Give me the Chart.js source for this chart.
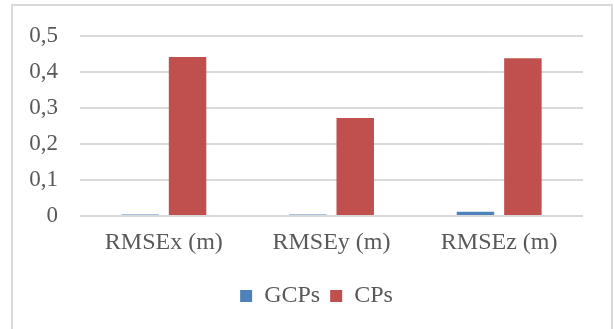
<!DOCTYPE html>
<html>
<head>
<meta charset="utf-8">
<script src="https://cdn.jsdelivr.net/npm/chart.js@4.4.1/dist/chart.umd.min.js"></script>
<style>
  html, body { margin: 0; padding: 0; background: #ffffff; }
  #wrap { position: relative; width: 614px; height: 329px; }
</style>
</head>
<body>
<div id="wrap"><canvas id="chart" width="614" height="329"></canvas></div>
<script>
// RMSE per axis, in metres
const categories = ['RMSEx (m)', 'RMSEy (m)', 'RMSEz (m)'];
const gcpsValues = [0.004, 0.004, 0.012];
const cpsValues = [0.441, 0.272, 0.438];
const seriesNames = ['GCPs', 'CPs'];

const textColor = '#595959';
const gridColor = '#d9d9d9';
const fontFamily = '"Liberation Serif", "Times New Roman", serif';

// light grey frame around the whole chart
const framePlugin = {
  id: 'frame',
  beforeDraw(chart) {
    const ctx = chart.ctx;
    ctx.save();
    ctx.strokeStyle = gridColor;
    ctx.lineWidth = 2;
    ctx.strokeRect(12, 5, 600, 340);
    ctx.restore();
  }
};

// centre the legend a little further right, under the plot
const legendShift = {
  id: 'legendShift',
  afterLayout(chart) {
    if (chart.legend) chart.legend.left = 50;
  }
};

new Chart(document.getElementById('chart'), {
  type: 'bar',
  data: {
    labels: categories,
    datasets: [
      {
        label: seriesNames[0],
        data: gcpsValues,
        backgroundColor: '#4f81bd',
        categoryPercentage: 0.566,
        barPercentage: 0.79
      },
      {
        label: seriesNames[1],
        data: cpsValues,
        backgroundColor: '#c0504d',
        categoryPercentage: 0.566,
        barPercentage: 0.79
      }
    ]
  },
  options: {
    responsive: false,
    animation: false,
    devicePixelRatio: 1,
    layout: { padding: { left: 0, right: 31, top: 33, bottom: 11 } },
    plugins: {
      tooltip: { enabled: false },
      legend: {
        position: 'bottom',
        labels: {
          color: textColor,
          font: { family: fontFamily, size: 24 },
          boxWidth: 12,
          boxHeight: 12,
          padding: 10
        }
      }
    },
    scales: {
      x: {
        afterFit(scale) { scale.height = 58; },
        grid: { display: false, drawTicks: false },
        border: { display: false },
        ticks: {
          color: textColor,
          font: { family: fontFamily, size: 24 },
          padding: 12,
          maxRotation: 0
        }
      },
      y: {
        min: 0,
        max: 0.5,
        afterFit(scale) { scale.width = 80; },
        grid: { color: gridColor, lineWidth: 2, drawTicks: false },
        border: { display: false },
        ticks: {
          stepSize: 0.1,
          color: textColor,
          font: { family: fontFamily, size: 23 },
          padding: 22,
          callback(v) {
            return v === 0 ? '0' : v.toFixed(1).replace('.', ',');
          }
        }
      }
    }
  },
  plugins: [framePlugin, legendShift]
});
</script>
</body>
</html>
